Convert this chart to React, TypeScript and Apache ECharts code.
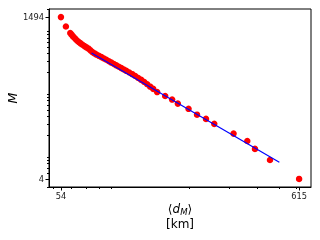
import React, { useEffect, useRef } from 'react';
import * as echarts from 'echarts';

// Mean distance <d_M> (km) and M (log-log)
const distKm = [54, 56.8, 59.4, 60.2, 61.1, 62.1, 63.0, 64.0, 65.0, 66.0,
  67.3, 68.7, 70.1, 71.6, 73.0, 74.5, 76.1, 77.6, 79.6, 81.7,
  83.8, 85.9, 88.2, 90.4, 92.8, 95.1, 97.6, 100.1, 102.7, 105.3,
  108.6, 111.9, 115.4, 119.0, 122.7, 126.5, 130.4, 134.4, 138.6, 144.3,
  156.6, 168.1, 178.2, 198.8, 216.8, 237.6, 258.5, 314.9, 362.3, 391.8,
  456.8, 615];
const mValues = [1494, 1061, 834, 786, 736, 695, 658, 623, 594, 571,
  544, 517, 493, 470, 442, 415, 395, 379, 362, 345,
  328, 313, 297, 282, 268, 255, 243, 231, 219, 209,
  197, 185, 173, 161, 150, 139, 128, 117, 108, 96,
  83, 73, 63, 52, 42, 36, 30, 21, 16, 12,
  8, 4];

// Power-law fit line endpoints
const fitDist = [73.8, 502.6];
const fitM = [402, 7.37];

// Ticks
const xMajorTicks = [54, 615];
const yMajorTicks = [4, 1494];
const xMinorTicks = [50, 60, 70, 80, 90, 200, 300, 400, 500, 600];
const yMinorTicks = [3, 5, 6, 7, 8, 9, 20, 30, 40, 50, 60, 70, 80, 90,
  200, 300, 400, 500, 600, 700, 800, 900, 2000];

const X_MIN = 47.8, X_MAX = 694.5, Y_MIN = 2.975, Y_MAX = 2009;
const FONT = 'DejaVu Sans';

export default function App() {
  const ref = useRef<HTMLDivElement>(null);
  useEffect(() => {
    document.body.style.margin = '0';
    const chart = echarts.init(ref.current as HTMLDivElement, null, { renderer: 'svg' });
    const fmt = (v: number) => String(Math.round(v));
    const tickStyle = { color: '#000', width: 1 };
    chart.setOption({
      animation: false,
      grid: {
        left: 49, top: 9, width: 262, height: 178,
        outerBoundsMode: 'none', containLabel: false,
        show: true, borderColor: '#000', borderWidth: 1, backgroundColor: 'transparent',
      },
      xAxis: [
        {
          type: 'log', min: X_MIN, max: X_MAX, position: 'bottom',
          splitLine: { show: false },
          axisLine: { lineStyle: { color: '#000', width: 1 } },
          axisTick: { customValues: xMajorTicks, length: 3.5, lineStyle: tickStyle },
          axisLabel: { customValues: xMajorTicks, formatter: fmt, fontFamily: FONT, fontSize: 8.3, color: '#222', margin: 5 },
          name: '{p|⟨}{d|d}{s|M}{p|⟩}\n{k|[km]}',
          nameLocation: 'middle', nameGap: 15, nameMoveOverlap: false,
          nameTextStyle: {
            color: '#000', fontFamily: FONT, fontSize: 12,
            rich: {
              p: { fontFamily: FONT, fontSize: 12, lineHeight: 14, color: '#000' },
              d: { fontFamily: FONT, fontSize: 12, fontStyle: 'italic', lineHeight: 14, color: '#000' },
              s: { fontFamily: FONT, fontSize: 8.5, fontStyle: 'italic', lineHeight: 8, padding: [6, 0, 0, 0], color: '#000' },
              k: { fontFamily: FONT, fontSize: 12, lineHeight: 16, color: '#000' },
            },
          },
        },
        {
          type: 'log', min: X_MIN, max: X_MAX, position: 'bottom',
          splitLine: { show: false },
          axisLine: { show: false },
          axisTick: { customValues: xMinorTicks, length: 2, lineStyle: tickStyle },
          axisLabel: { show: false },
        },
      ],
      yAxis: [
        {
          type: 'log', min: Y_MIN, max: Y_MAX, position: 'left',
          splitLine: { show: false },
          axisLine: { lineStyle: { color: '#000', width: 1 } },
          axisTick: { customValues: yMajorTicks, length: 3.5, lineStyle: tickStyle },
          axisLabel: { customValues: yMajorTicks, formatter: fmt, fontFamily: FONT, fontSize: 8.3, color: '#222', margin: 5 },
          name: 'M', nameLocation: 'middle', nameRotate: 90, nameGap: 30, nameMoveOverlap: false,
          nameTextStyle: { color: '#000', fontFamily: FONT, fontSize: 12.5, fontStyle: 'italic' },
        },
        {
          type: 'log', min: Y_MIN, max: Y_MAX, position: 'left',
          splitLine: { show: false },
          axisLine: { show: false },
          axisTick: { customValues: yMinorTicks, length: 2, lineStyle: tickStyle },
          axisLabel: { show: false },
        },
      ],
      series: [
        {
          type: 'scatter', xAxisIndex: 0, yAxisIndex: 0,
          data: distKm.map((d, i) => [d, mValues[i]]),
          symbolSize: 6.5,
          itemStyle: { color: '#ff0000', opacity: 1 },
          z: 2,
        },
        {
          type: 'line', xAxisIndex: 0, yAxisIndex: 0,
          data: fitDist.map((d, i) => [d, fitM[i]]),
          symbol: 'none',
          lineStyle: { color: '#0000ff', width: 1.2 },
          z: 3,
        },
      ],
    });
    return () => chart.dispose();
  }, []);
  return <div ref={ref} style={{ width: 320, height: 240, position: 'fixed', left: 0, top: 0 }} />;
}
